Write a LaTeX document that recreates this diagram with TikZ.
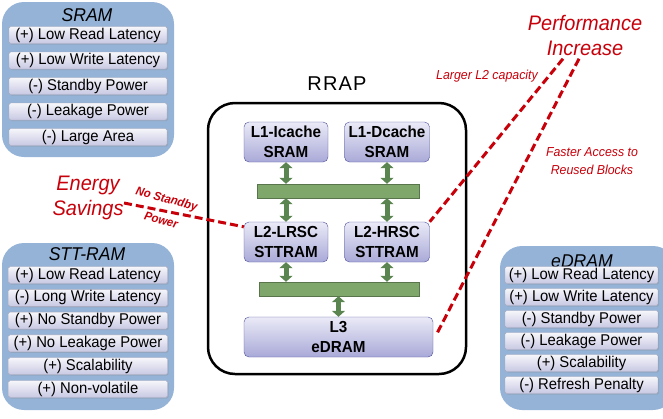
\documentclass[tikz,border=0pt]{standalone}
\usepackage{fontspec}
\setmainfont{Liberation Sans}[FakeStretch=0.95]
\newfontfamily\rrapfont{Liberation Sans}[LetterSpace=6]
\usetikzlibrary{arrows.meta,shadows}

\definecolor{panelblue}{HTML}{95B3D7}
\definecolor{itemtop}{HTML}{F6F6FB}
\definecolor{itembot}{HTML}{C8C8E3}
\definecolor{boxtop}{HTML}{EAEAF7}
\definecolor{boxbot}{HTML}{A9A9D8}
\definecolor{boxline}{HTML}{4E4E9C}
\definecolor{busgreen}{HTML}{7FA76C}
\definecolor{arrowgreen}{HTML}{5A8450}
\definecolor{gainred}{HTML}{C8000A}

\begin{document}
\begin{tikzpicture}[x=1pt, y=-1pt,
  panel/.style={fill=panelblue, rounded corners=22pt},
  ptitle/.style={font=\fontsize{18.5}{20}\selectfont\itshape},
  item/.style={draw=itembot!60!gray, top color=itemtop, bottom color=itembot,
    rounded corners=1.5pt, minimum height=17pt, inner sep=0pt,
    drop shadow={opacity=0.25, shadow xshift=1pt, shadow yshift=-1pt},
    font=\fontsize{15.6}{17}\selectfont},
  cache/.style={draw=boxline, top color=boxtop, bottom color=boxbot,
    rounded corners=5pt, minimum height=40pt, inner sep=0pt, align=center,
    font=\fontsize{16}{20}\selectfont\bfseries},
  bus/.style={fill=busgreen, draw=busgreen!70!black, minimum height=14pt, inner sep=0pt},
  duplex/.style={arrowgreen, line width=5pt,
    {Triangle[width=13pt,length=6pt]}-{Triangle[width=13pt,length=6pt]}},
  gain/.style={gainred, line width=3pt, dash pattern=on 8pt off 4pt},
  gaintext/.style={text=gainred, align=center, font=\fontsize{21}{25}\selectfont\itshape},
  note/.style={text=gainred, align=center, font=\fontsize{13}{18}\selectfont\itshape}]

\useasboundingbox (0,0) rectangle (663,418);

% technology panels
\path[panel] (2,2) rectangle (174,157);
\node[ptitle] (sramtitle) at (87,15) {SRAM};
\foreach \txt [count=\i] in {{(+) Low Read Latency},{(+) Low Write Latency},
    {(-) Standby Power},{(-) Leakage Power},{(-) Large Area}}
  \node[item, minimum width=158pt] (sram\i) at (88,{35+25.5*(\i-1)}) {\txt};

\path[panel] (2,243) rectangle (174,410);
\node[ptitle] (stttitle) at (87,254) {STT-RAM};
\foreach \txt [count=\i] in {{(+) Low Read Latency},{(-) Long Write Latency},
    {(+) No Standby Power},{(+) No Leakage Power},{(+) Scalability},{(+) Non-volatile}}
  \node[item, minimum width=159pt] (stt\i) at (88,{275+22.8*(\i-1)}) {\txt};

\path[panel] (500,246) rectangle (675,410);
\node[ptitle] (edramtitle) at (582,261) {eDRAM};
\foreach \txt [count=\i] in {{(+) Low Read Latency},{(+) Low Write Latency},
    {(-) Standby Power},{(-) Leakage Power},{(+) Scalability},{(-) Refresh Penalty}}
  \node[item, minimum width=153pt] (edram\i) at (581.5,{275+22*(\i-1)}) {\txt};

% RRAP hierarchy
\node[font=\fontsize{20}{22}\selectfont\rrapfont] (rrap) at (337,84) {RRAP};
\draw[line width=2.5pt, rounded corners=27pt] (208,103) rectangle (466,374);

\node[cache, minimum width=84pt] (l1i) at (286,142) {L1-Icache\\SRAM};
\node[cache, minimum width=85pt] (l1d) at (387,142) {L1-Dcache\\SRAM};
\node[bus, minimum width=162pt] (bus1) at (338,191) {};
\node[cache, minimum width=84pt] (l2l) at (286,242) {L2-LRSC\\STTRAM};
\node[cache, minimum width=85pt] (l2h) at (387,242) {L2-HRSC\\STTRAM};
\node[bus, minimum width=160pt] (bus2) at (339,289) {};
\node[cache, minimum width=189pt] (l3) at (338.5,337) {L3\\eDRAM};

\draw[duplex] (l1i.south) -- (l1i.south |- bus1.north);
\draw[duplex] (l1d.south) -- (l1d.south |- bus1.north);
\draw[duplex] (l2l.north) -- (l2l.north |- bus1.south);
\draw[duplex] (l2h.north) -- (l2h.north |- bus1.south);
\draw[duplex] (l2l.south) -- (l2l.south |- bus2.north);
\draw[duplex] (l2h.south) -- (l2h.south |- bus2.north);
\draw[duplex] (l3.north) -- (l3.north |- bus2.south);

% benefits
\node[gaintext] (energy) at (88,198) {Energy\\Savings};
\node[note, rotate=-15, font=\fontsize{12}{22}\selectfont\bfseries\itshape] (nostandby) at (164,209) {No Standby\\Power};
\node[gaintext] (perf) at (585,35) {Performance\\Increase};
\node[note] (largerl2) at (487,76) {Larger L2 capacity};
\node[note] (faster) at (592,161) {Faster Access to\\Reused Blocks};

\draw[gain] ([shift={(-3pt,-5pt)}]energy.east) -- ([yshift=-5pt]l2l.north west);
\draw[gain] ([xshift=-22pt]perf.south) -- (l2h.north east);
\draw[gain] ([xshift=-6pt]perf.south) -- ([shift={(4pt,4pt)}]l3.east);
\end{tikzpicture}
\end{document}
